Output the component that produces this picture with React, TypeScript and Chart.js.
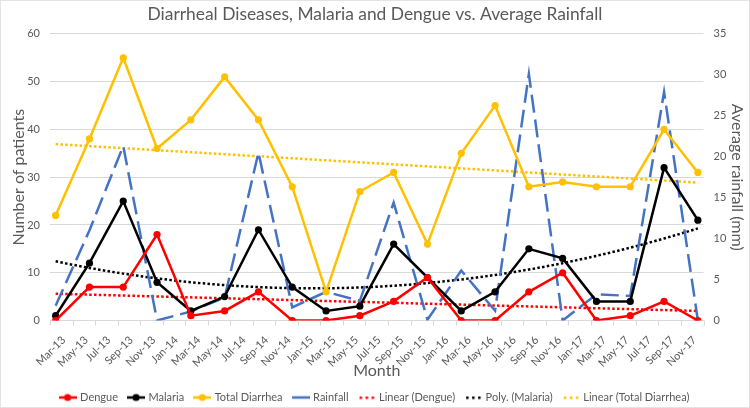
import React, { useEffect, useRef } from "react";
import { Chart, registerables } from "chart.js";

Chart.register(...registerables);

// ---- data (quarterly observations) ----
const QUARTERS = ["Mar-13","Jun-13","Sep-13","Dec-13","Mar-14","Jun-14","Sep-14","Dec-14","Mar-15","Jun-15","Sep-15","Dec-15","Mar-16","Jun-16","Sep-16","Dec-16","Mar-17","Jun-17","Sep-17","Dec-17"];
const TICK_LABELS = ["Mar-13","May-13","Jul-13","Sep-13","Nov-13","Jan-14","Mar-14","May-14","Jul-14","Sep-14","Nov-14","Jan-15","Mar-15","May-15","Jul-15","Sep-15","Nov-15","Jan-16","Mar-16","May-16","Jul-16","Sep-16","Nov-16","Jan-17","Mar-17","May-17","Jul-17","Sep-17","Nov-17"];
const DENGUE = [0,7,7,18,1,2,6,0,0,1,4,9,0,0,6,10,0,1,4,0];
const MALARIA = [1,12,25,8,2,5,19,7,2,3,16,9,2,6,15,13,4,4,32,21];
const TOTAL_DIARRHEA = [22,38,55,36,42,51,42,28,6,27,31,16,35,45,28,29,28,28,40,31];
const RAINFALL = [1.8,11,21.3,0,1.1,2.8,20.5,1.6,3.5,2.4,14.4,0.1,6.1,1.2,30.1,0,3.2,3.0,27.9,0];
const LEFT_TICKS = [0,10,20,30,40,50,60];
const RIGHT_TICKS = [0,5,10,15,20,25,30,35];

const MONTHS = ["Jan","Feb","Mar","Apr","May","Jun","Jul","Aug","Sep","Oct","Nov","Dec"];
const monthIndex = (label: string) => {
  const [m, y] = label.split("-");
  return (parseInt(y, 10) - 13) * 12 + MONTHS.indexOf(m) - 2;
};
const XS = QUARTERS.map(monthIndex);

const FONT = "Lato, 'Open Sans', sans-serif";
const GREY = "#595959";

function fitPoly(xs: number[], ys: number[], deg: number): number[] {
  const n = deg + 1;
  const A: number[][] = [];
  for (let r = 0; r < n; r++) {
    A.push(new Array(n + 1).fill(0));
    for (let c = 0; c < n; c++) {
      A[r][c] = xs.reduce((s, x) => s + Math.pow(x, r + c), 0);
    }
    A[r][n] = xs.reduce((s, x, i) => s + Math.pow(x, r) * ys[i], 0);
  }
  for (let i = 0; i < n; i++) {
    let p = i;
    for (let k = i + 1; k < n; k++) if (Math.abs(A[k][i]) > Math.abs(A[p][i])) p = k;
    [A[i], A[p]] = [A[p], A[i]];
    for (let k = 0; k < n; k++) {
      if (k === i) continue;
      const f = A[k][i] / A[i][i];
      for (let c = i; c <= n; c++) A[k][c] -= f * A[i][c];
    }
  }
  return A.map((row, i) => row[n] / row[i]);
}
const evalPoly = (c: number[], x: number) => c.reduce((s, a, i) => s + a * Math.pow(x, i), 0);
function trend(ys: number[], deg: number) {
  const c = fitPoly(XS, ys, deg);
  const x0 = XS[0], x1 = XS[XS.length - 1];
  const pts: { x: number; y: number }[] = [];
  const steps = deg === 1 ? 1 : 57;
  for (let i = 0; i <= steps; i++) {
    const x = x0 + ((x1 - x0) * i) / steps;
    pts.push({ x, y: evalPoly(c, x) });
  }
  return pts;
}

function makeIcon(color: string, kind: "marker" | "line" | "dot") {
  const c = document.createElement("canvas");
  c.width = 18;
  c.height = 10;
  const g = c.getContext("2d")!;
  g.strokeStyle = color;
  g.fillStyle = color;
  if (kind === "dot") {
    for (const x of [2, 8, 14]) g.fillRect(x, 4, 2.5, 2.5);
  } else {
    g.lineWidth = 2.5;
    g.beginPath();
    g.moveTo(0, 5);
    g.lineTo(18, 5);
    g.stroke();
    if (kind === "marker") {
      g.beginPath();
      g.arc(9, 5, 3.6, 0, Math.PI * 2);
      g.fill();
    }
  }
  return c;
}

export default function App() {
  const ref = useRef<HTMLCanvasElement | null>(null);
  useEffect(() => {
    document.body.style.margin = "0";
    const pts = (ys: number[]) => ys.map((y, i) => ({ x: XS[i], y }));
    const series = (label: string, ys: number[], color: string, order: number) => ({
      label,
      data: pts(ys),
      borderColor: color,
      backgroundColor: color,
      pointBackgroundColor: color,
      pointBorderColor: color,
      borderWidth: 2.5,
      pointRadius: 3.6,
      pointBorderWidth: 0,
      tension: 0,
      yAxisID: "y",
      order,
    });
    const trendDs = (label: string, data: any, color: string) => ({
      label,
      data,
      borderColor: color,
      backgroundColor: color,
      borderWidth: 2.5,
      borderDash: [2.5, 2.3],
      pointRadius: 0,
      tension: 0,
      yAxisID: "y",
      order: 10,
    });

    const legendItems = [
      { text: "Dengue", icon: makeIcon("#FF0000", "marker") },
      { text: "Malaria", icon: makeIcon("#000000", "marker") },
      { text: "Total Diarrhea", icon: makeIcon("#FFC000", "marker") },
      { text: "Rainfall", icon: makeIcon("#4472C4", "line") },
      { text: "Linear (Dengue)", icon: makeIcon("#FF0000", "dot") },
      { text: "Poly. (Malaria)", icon: makeIcon("#000000", "dot") },
      { text: "Linear (Total Diarrhea)", icon: makeIcon("#FFC000", "dot") },
    ];

    const tickMarks = {
      id: "tickMarks",
      afterDraw(chart: any) {
        const xs = chart.scales.x;
        const ctx = chart.ctx;
        const b = chart.chartArea.bottom;
        ctx.save();
        ctx.strokeStyle = "#d9d9d9";
        ctx.lineWidth = 1;
        for (let v = xs.min; v <= xs.max + 1e-6; v += 2) {
          const px = Math.round(xs.getPixelForValue(v)) + 0.5;
          ctx.beginPath();
          ctx.moveTo(px, b);
          ctx.lineTo(px, b + 5);
          ctx.stroke();
        }
        ctx.strokeStyle = "#e3e3e3";
        ctx.strokeRect(0.5, 0.5, chart.width - 1, chart.height - 1);
        ctx.restore();
      },
    };

    const chart = new Chart(ref.current!, {
      type: "line",
      data: {
        datasets: [
          series("Dengue", DENGUE, "#FF0000", 1),
          series("Malaria", MALARIA, "#000000", 2),
          series("Total Diarrhea", TOTAL_DIARRHEA, "#FFC000", 3),
          {
            label: "Rainfall",
            data: pts(RAINFALL),
            borderColor: "#4472C4",
            backgroundColor: "#4472C4",
            borderWidth: 2.5,
            borderDash: [18, 7],
            pointRadius: 0,
            tension: 0,
            yAxisID: "y1",
            order: 4,
          } as any,
          trendDs("Linear (Dengue)", trend(DENGUE, 1), "#FF0000"),
          trendDs("Poly. (Malaria)", trend(MALARIA, 2), "#000000"),
          trendDs("Linear (Total Diarrhea)", trend(TOTAL_DIARRHEA, 1), "#FFC000"),
        ],
      },
      options: {
        animation: false,
        responsive: false,
        maintainAspectRatio: false,
        layout: { padding: { top: 0, bottom: -5, left: 0, right: 0 } },
        plugins: {
          tooltip: { enabled: false },
          title: {
            display: true,
            text: "Diarrheal Diseases, Malaria and Dengue vs. Average Rainfall",
            color: GREY,
            font: { family: FONT, size: 17.4, weight: "normal" },
            padding: { top: 4, bottom: 9 },
          },
          legend: {
            position: "bottom",
            labels: {
              usePointStyle: true,
              pointStyleWidth: 14,
              padding: 11,
              color: GREY,
              font: { family: FONT, size: 11 },
              generateLabels: () =>
                legendItems.map((it, i) => ({
                  text: it.text,
                  pointStyle: it.icon as any,
                  fillStyle: "rgba(0,0,0,0)",
                  strokeStyle: "rgba(0,0,0,0)",
                  lineWidth: 0,
                  hidden: false,
                  datasetIndex: i,
                  fontColor: GREY,
                })),
            },
          },
        },
        scales: {
          x: {
            type: "linear",
            min: -0.5,
            max: 57.5,
            afterBuildTicks: (s: any) => {
              s.ticks = TICK_LABELS.map((l) => ({ value: monthIndex(l) }));
            },
            afterFit: (s: any) => {
              s.height = 60.5;
            },
            grid: { display: false },
            border: { display: true, color: "#d9d9d9" },
            ticks: {
              autoSkip: false,
              maxRotation: 45,
              minRotation: 45,
              padding: 5,
              labelOffset: 8,
              color: GREY,
              font: { family: FONT, size: 11 },
              callback: (_v: any, i: number) => TICK_LABELS[i],
            },
            title: {
              display: true,
              text: "Month",
              color: GREY,
              font: { family: FONT, size: 16 },
              padding: { top: 0, bottom: 0.5 },
            },
          },
          y: {
            position: "left",
            min: 0,
            max: 60,
            afterBuildTicks: (s: any) => {
              s.ticks = LEFT_TICKS.map((v) => ({ value: v }));
            },
            afterFit: (s: any) => {
              s.width = 50;
            },
            grid: { color: "#d9d9d9", drawTicks: false },
            border: { display: false },
            ticks: { padding: 10, color: GREY, font: { family: FONT, size: 11 } },
            title: {
              display: true,
              text: "Number of patients",
              color: GREY,
              font: { family: FONT, size: 16 },
              padding: { top: 9, bottom: 0 },
            },
          },
          y1: {
            position: "right",
            min: 0,
            max: 35,
            afterBuildTicks: (s: any) => {
              s.ticks = RIGHT_TICKS.map((v) => ({ value: v }));
            },
            afterFit: (s: any) => {
              s.width = 46.5;
            },
            grid: { drawOnChartArea: false, drawTicks: false },
            border: { display: false },
            ticks: { padding: 10, color: GREY, font: { family: FONT, size: 11 } },
            title: {
              display: true,
              text: "Average rainfall (mm)",
              color: GREY,
              font: { family: FONT, size: 16 },
              padding: { top: 3, bottom: 0 },
            },
          },
        },
      } as any,
      plugins: [tickMarks],
    });
    return () => chart.destroy();
  }, []);
  return (
    <div style={{ position: "absolute", left: 0, top: 0, width: 750, height: 408, background: "#fff" }}>
      <canvas ref={ref} width={750} height={408} style={{ display: "block", width: 750, height: 408 }} />
    </div>
  );
}
